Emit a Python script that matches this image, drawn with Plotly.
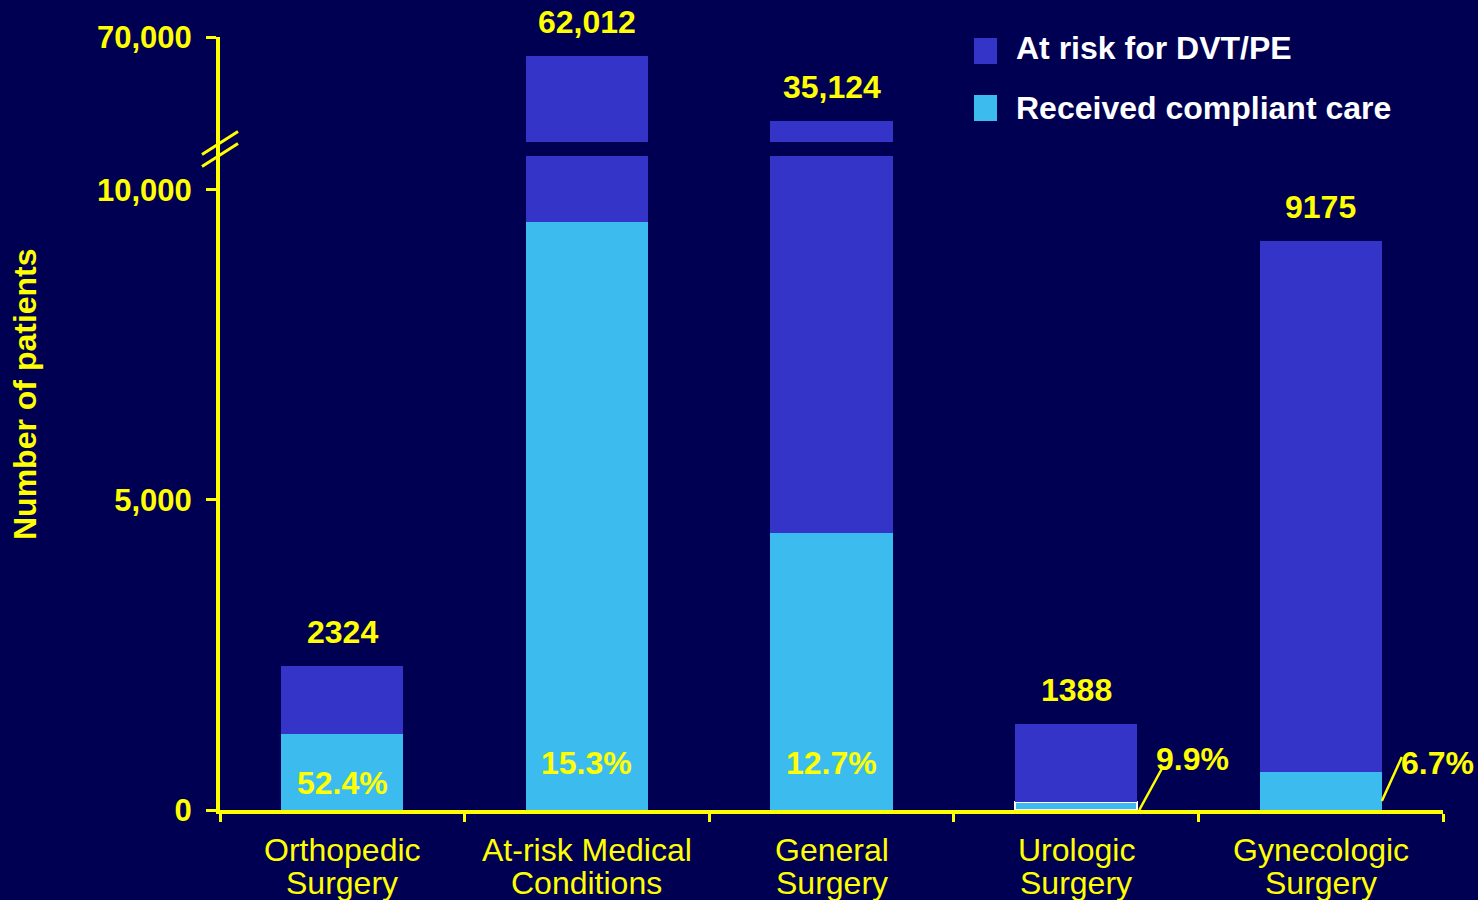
import plotly.graph_objects as go

# ---- data -------------------------------------------------------------
categories = ["Orthopedic Surgery", "At-risk Medical Conditions", "General Surgery",
              "Urologic Surgery", "Gynecologic Surgery"]
label_line1 = ["Orthopedic", "At-risk Medical", "General", "Urologic", "Gynecologic"]
label_line2 = ["Surgery", "Conditions", "Surgery", "Surgery", "Surgery"]
at_risk = [2324, 62012, 35124, 1388, 9175]
compliant_pct = [52.4, 15.3, 12.7, 9.9, 6.7]
lower_ticks = [0, 5000, 10000]
upper_ticks = [70000]
series_names = ["At risk for DVT/PE", "Received compliant care"]

compliant = [round(n * p / 100) for n, p in zip(at_risk, compliant_pct)]
remainder = [n - c for n, c in zip(at_risk, compliant)]

# ---- style ------------------------------------------------------------
BG = "#000052"
DARK = "#3434C9"
LIGHT = "#3CBBEE"
YELLOW = "#FFFF00"
FONT = "Arial, Liberation Sans, sans-serif"

W, H = 1478, 900
ML, MR, MT, MB = 220, 35, 37, 90
PW, PH = W - ML - MR, H - MT - MB

def px_to_paper_y(py):
    return (H - MB - py) / PH

def px_to_paper_x(px):
    return (px - ML) / PW

lower_top_px, upper_bottom_px = 156, 142
lower_domain = [0, px_to_paper_y(lower_top_px)]
upper_domain = [px_to_paper_y(upper_bottom_px), 1]
lower_range = [0, 10548]
upper_range = [26160, 70000]

fig = go.Figure()

# the same stacked bars are drawn on both halves of the broken axis
for yax in ["y", "y2"]:
    fig.add_trace(go.Bar(
        x=categories, y=compliant, yaxis=yax, name=series_names[1],
        marker=dict(color=LIGHT,
                    line=dict(color=["rgba(0,0,0,0)"] * 3 + ["white"] + ["rgba(0,0,0,0)"],
                              width=[0, 0, 0, 2, 0])),
        showlegend=False, hoverinfo="skip"))
    fig.add_trace(go.Bar(
        x=categories, y=remainder, yaxis=yax, name=series_names[0],
        marker=dict(color=DARK, line=dict(width=0)),
        showlegend=False, hoverinfo="skip"))

axis_common = dict(showline=True, linecolor=YELLOW, linewidth=4, showgrid=False,
                   zeroline=False, ticks="outside", tickcolor=YELLOW, tickwidth=3,
                   ticklen=10,
                   tickfont=dict(family=FONT, size=31, color=YELLOW, weight="bold"),
                   ticklabelstandoff=8)

fig.update_layout(
    width=W, height=H,
    margin=dict(l=ML, r=MR, t=MT, b=MB),
    paper_bgcolor=BG, plot_bgcolor=BG,
    barmode="stack", bargap=0.5,
    showlegend=False,
    font=dict(family=FONT, color=YELLOW),
    xaxis=dict(type="category", range=[-0.5, 4.5], showline=True, linecolor=YELLOW,
               linewidth=4, ticks="outside", tickson="boundaries", ticklen=8,
               tickwidth=3, tickcolor=YELLOW, showticklabels=False, showgrid=False,
               zeroline=False, anchor="y"),
    yaxis=dict(domain=lower_domain, range=lower_range, tickvals=lower_ticks,
               ticktext=[f"{v:,}" for v in lower_ticks], anchor="x", **axis_common),
    yaxis2=dict(domain=upper_domain, range=upper_range, tickvals=upper_ticks,
                ticktext=[f"{v:,}" for v in upper_ticks], anchor="x", **axis_common),
)

shapes = []
# axis line bridging the break
shapes.append(dict(type="line", xref="paper", yref="paper",
                   xsizemode="pixel", xanchor=0, x0=-2, x1=-2,
                   y0=lower_domain[1], y1=upper_domain[0],
                   line=dict(color=YELLOW, width=4)))
# break marks
gap_mid = px_to_paper_y((lower_top_px + upper_bottom_px) / 2)
for dy in (6, -6):
    shapes.append(dict(type="line", xref="paper", yref="paper",
                       xsizemode="pixel", xanchor=0, x0=-18, x1=18,
                       ysizemode="pixel", yanchor=gap_mid,
                       y0=dy - 11.5, y1=dy + 11.5,
                       line=dict(color=YELLOW, width=3)))
# legend swatches
for (top, bottom), color in zip([(38, 64), (95, 121)], [DARK, LIGHT]):
    shapes.append(dict(type="rect", xref="paper", yref="paper",
                       x0=px_to_paper_x(974), x1=px_to_paper_x(997),
                       y0=px_to_paper_y(bottom), y1=px_to_paper_y(top),
                       fillcolor=color, line=dict(width=0)))
# leader lines for the two small percentages, anchored at the bar's right edge
leaders = {3: (2, 0, 25, 42), 4: (0, 9, 20, 53)}
for i, (lx0, ly0, lx1, ly1) in leaders.items():
    shapes.append(dict(type="line", xref="x", yref="y",
                       xsizemode="pixel", xanchor=i + 0.25, x0=lx0, x1=lx1,
                       ysizemode="pixel", yanchor=0, y0=ly0, y1=ly1,
                       line=dict(color=YELLOW, width=2.5)))
fig.update_layout(shapes=shapes)

annotations = []
# legend text
for name, cy in zip(series_names, [48, 108]):
    annotations.append(dict(text=name, xref="paper", yref="paper",
                            x=px_to_paper_x(1014), y=px_to_paper_y(cy),
                            xanchor="left", yanchor="middle", showarrow=False,
                            font=dict(family=FONT, size=32, color="white", weight="bold")))

# y-axis title
annotations.append(dict(text="Number of patients", xref="paper", yref="paper",
                        x=0, xshift=-195, y=px_to_paper_y(394), textangle=-90,
                        xanchor="center", yanchor="middle", showarrow=False,
                        font=dict(family=FONT, size=32, color=YELLOW, weight="bold")))

# category labels (two tight lines)
for cat, l1, l2 in zip(categories, label_line1, label_line2):
    for txt, shift in ((l1, -40), (l2, -73)):
        annotations.append(dict(text=txt, xref="x", yref="paper", x=cat, y=0,
                                yshift=shift, xanchor="center", yanchor="middle",
                                showarrow=False,
                                font=dict(family=FONT, size=32, color=YELLOW)))

# totals above the bars
for cat, n in zip(categories, at_risk):
    on_upper = n > lower_range[1]
    annotations.append(dict(text=f"{n:,}" if n >= 10000 else str(n),
                            xref="x", yref="y2" if on_upper else "y", x=cat, y=n,
                            yshift=34, xanchor="center", yanchor="middle",
                            showarrow=False,
                            font=dict(family=FONT, size=32, color=YELLOW, weight="bold")))

# compliant-care percentages
inside_shift = [27, 47, 47]
outside_shift = {3: (55, 51), 4: (56, 47)}
for i, (cat, p) in enumerate(zip(categories, compliant_pct)):
    style = dict(family=FONT, size=32, color=YELLOW, weight="bold")
    if i < 3:
        annotations.append(dict(text=f"{p:.1f}%", xref="x", yref="y", x=cat, y=0,
                                yshift=inside_shift[i], xanchor="center",
                                yanchor="middle", showarrow=False, font=style))
    else:
        dx, dy = outside_shift[i]
        annotations.append(dict(text=f"{p:.1f}%", xref="x", yref="y", x=i + 0.25, y=0,
                                xshift=dx, yshift=dy, xanchor="center",
                                yanchor="middle", showarrow=False, font=style))
fig.update_layout(annotations=annotations)

fig.write_html("out.html")
